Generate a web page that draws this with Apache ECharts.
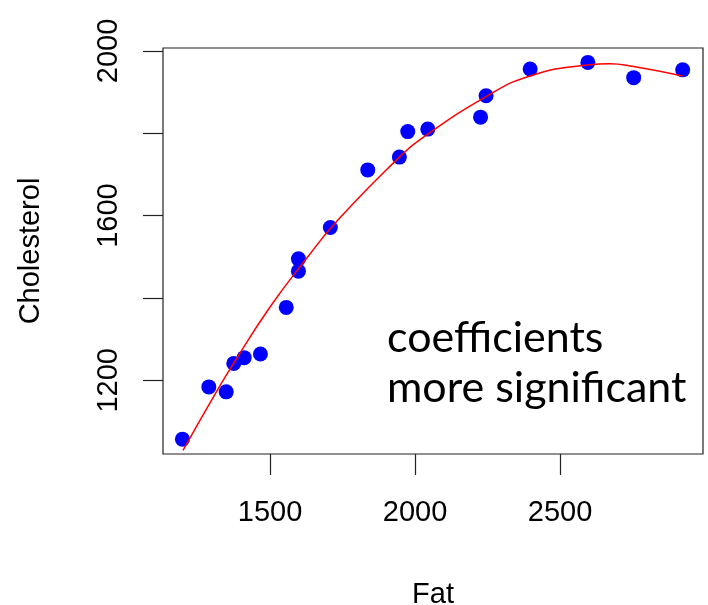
<!DOCTYPE html>
<html>
<head>
<meta charset="utf-8">
<script src="https://cdn.jsdelivr.net/npm/echarts@6/dist/echarts.min.js"></script>
<style>
  html, body { margin: 0; padding: 0; background: #fff; }
  #main { width: 708px; height: 605px; }
</style>
</head>
<body>
<div id="main"></div>
<script>
// observed points
var fat = [1198, 1289, 1349, 1375, 1411, 1467, 1556, 1598, 1598, 1708,
           1837, 1946, 1975, 2044, 2226, 2245, 2397, 2596, 2754, 2923];
var cholesterol = [1057, 1184, 1172, 1241, 1255, 1264, 1377, 1465, 1495, 1571,
                   1711, 1742, 1804, 1810, 1839, 1891, 1956, 1972, 1935, 1954];

// red fitted curve
var fitFat = [1200, 1320, 1378, 1500, 1625, 1734, 1946, 2016,
              2245, 2397, 2596, 2671, 2754, 2923];
var fitChol = [1030, 1178, 1245, 1378, 1495, 1589, 1742, 1784,
               1889, 1939, 1966, 1969, 1962, 1939];

var xTicks = [1500, 2000, 2500];
var yTicks = [1200, 1400, 1600, 1800, 2000];
var yLabels = [1200, 1600, 2000];

var chart = echarts.init(document.getElementById('main'));

var pts = [];
for (var i = 0; i < fat.length; i++) {
    pts.push([fat[i], cholesterol[i]]);
}
var fit = [];
for (var j = 0; j < fitFat.length; j++) {
    fit.push([fitFat[j], fitChol[j]]);
}

var axisFont = 'Liberation Sans';
function plain(v) { return String(v); }

var option = {
    animation: false,
    backgroundColor: '#fff',
    grid: {
        left: 163, right: 5, top: 48, bottom: 151,
        outerBoundsMode: 'none',
        containLabel: false,
        show: true, borderColor: '#222', borderWidth: 1.2,
        backgroundColor: 'transparent'
    },
    xAxis: {
        type: 'value',
        min: 1131, max: 2993,
        name: 'Fat',
        nameLocation: 'middle',
        nameGap: 126,
        nameTextStyle: { fontFamily: axisFont, fontSize: 29, color: '#000' },
        axisLine: { show: false },
        splitLine: { show: false },
        axisTick: {
            show: true, inside: false, length: 21,
            customValues: xTicks,
            lineStyle: { color: '#222', width: 1.2 }
        },
        axisLabel: {
            customValues: xTicks,
            formatter: plain,
            margin: 44,
            fontFamily: axisFont, fontSize: 29, color: '#000'
        }
    },
    yAxis: {
        type: 'value',
        min: 1021, max: 2007,
        name: 'Cholesterol',
        nameLocation: 'middle',
        nameGap: 118,
        nameTextStyle: { fontFamily: axisFont, fontSize: 29, color: '#000' },
        axisLine: { show: false },
        splitLine: { show: false },
        axisTick: {
            show: true, inside: false, length: 20,
            customValues: yTicks,
            lineStyle: { color: '#222', width: 1.2 }
        },
        axisLabel: {
            customValues: yLabels,
            formatter: plain,
            rotate: 90,
            margin: 40,
            fontFamily: axisFont, fontSize: 29, color: '#000'
        }
    },
    series: [
        {
            type: 'line',
            data: fit,
            smooth: 0.5,
            showSymbol: false,
            lineStyle: { color: '#ff0000', width: 1.5 },
            z: 3
        },
        {
            type: 'scatter',
            data: pts,
            symbol: 'circle',
            symbolSize: 15,
            itemStyle: { color: '#0000ff', opacity: 1 },
            z: 2
        }
    ],
    graphic: [
        {
            type: 'text', left: 387, top: 317,
            style: { text: 'coefficients', font: '43px Lato', fill: '#000' }
        },
        {
            type: 'text', left: 387, top: 367,
            style: { text: 'more significant', font: '43px Lato', fill: '#000' }
        }
    ]
};

chart.setOption(option);
</script>
</body>
</html>
